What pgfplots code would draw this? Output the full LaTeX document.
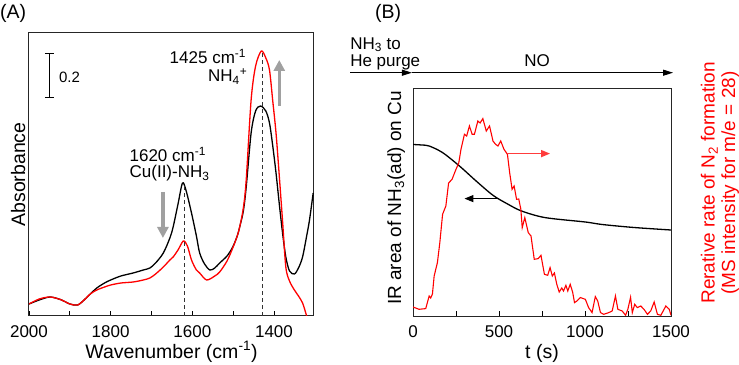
\documentclass[border=0pt]{standalone}
\usepackage{pgfplots}
\pgfplotsset{compat=1.18}
\usepackage{fontspec}
\setmainfont{Liberation Sans}
\setsansfont{Liberation Sans}
\usetikzlibrary{arrows.meta}
\newcommand\fs{\fontsize{17bp}{20bp}\selectfont}
\newcommand\fl{\fontsize{19.5bp}{22bp}\selectfont}
\newcommand\fv{\fontsize{19bp}{20.5bp}\selectfont}
\definecolor{arrowgray}{RGB}{160,160,160}
\definecolor{lightred}{RGB}{255,60,60}
\pgfplotsset{
  common/.style={
    scale only axis, anchor=south west,
    ytick=\empty, xtick pos=bottom, tick align=inside,
    major tick length=5bp, minor tick length=5bp,
    tick style={black, line width=0.8bp},
    axis line style={line width=1bp, black!85},
    /pgf/number format/assume math mode=true,
    /pgf/number format/1000 sep={},
    xticklabel style={font=\fs, anchor=base, yshift=-21bp},
    every axis x label/.style={at={(axis description cs:0.5,0)}, anchor=base, yshift=-42bp, font=\fl},
    clip mode=individual,
  }
}
\begin{document}
\fs
\begin{tikzpicture}
\path[use as bounding box] (0bp,0bp) rectangle (739bp,365bp);
\node[anchor=west, font=\fl, inner sep=0pt] at (0bp,352bp) {(A)};
\node[anchor=west, font=\fl, inner sep=0pt] at (375bp,351.5bp) {(B)};

% ---------------- Panel A ----------------
\begin{axis}[common,
  at={(29bp,49bp)}, width=285bp, height=283bp,
  x dir=reverse, xmin=1302, xmax=2000, ymin=0, ymax=283,
  xtick={2000,1800,1600,1400}, minor xtick={1900,1700,1500},
  xlabel={Wavenumber (cm\textsuperscript{-1})},
  ylabel={Absorbance},
  every axis y label/.style={at={(axis description cs:-0.014,0.5)}, rotate=90, anchor=base, font=\fl},
]
\addplot[black, line width=1.3bp, smooth, tension=0.5] coordinates {
(2000,12) (1975,16) (1948,19) (1920,16) (1900,12) (1881,11) (1865,16) (1850,22)
(1834,28) (1815,33) (1800,36) (1775,40) (1745,43) (1720,46) (1704,48) (1690,53)
(1671,63) (1655,78) (1647,89) (1635,112) (1624,133) (1615,125) (1602,103) (1590,80)
(1582,63) (1570,52) (1557,46) (1545,48) (1533,53) (1515,60) (1501,69) (1490,80)
(1484,89) (1475,105) (1468,129) (1456,183) (1445,205) (1433,210) (1420,205) (1411,193)
(1403,170) (1395,143) (1387,112) (1379,83) (1371,59) (1362,45) (1350,42) (1340,48)
(1330,59) (1320,80) (1313,96) (1304,123)
};
\addplot[red, line width=1.3bp, smooth, tension=0.5] coordinates {
(2000,12) (1975,17) (1948,19) (1920,16) (1900,12) (1881,11) (1865,16) (1850,22)
(1834,26) (1815,29) (1800,31) (1775,33) (1745,34) (1720,36) (1704,38) (1690,42)
(1671,49) (1655,56) (1647,59) (1635,66) (1622,75) (1612,70) (1602,56) (1590,46)
(1582,43) (1565,36) (1545,40) (1533,44) (1515,55) (1501,68) (1490,80) (1484,89)
(1475,108) (1468,136) (1456,216) (1445,250) (1431,265) (1420,258) (1411,246)
(1403,215) (1395,183) (1387,140) (1379,95) (1371,49) (1362,35) (1350,26) (1340,20)
(1330,13) (1320,0) (1310,-15)
};
\draw[dashed, dash pattern=on 4bp off 3bp, line width=0.8bp, black!80] (axis cs:1620,0) -- (axis cs:1620,133);
\draw[dashed, dash pattern=on 4bp off 3bp, line width=0.8bp, black!80] (axis cs:1428,0) -- (axis cs:1428,263);
% scale bar
\draw[line width=1bp] (axis cs:1950,218) -- (axis cs:1950,262);
\draw[line width=1bp] (axis cs:1961,218) -- (axis cs:1939,218);
\draw[line width=1bp] (axis cs:1961,262) -- (axis cs:1939,262);
\node[anchor=west, inner sep=0pt, font=\fontsize{15bp}{18bp}\selectfont] at (axis cs:1927,239) {0.2};
% gray arrows
\draw[-{Triangle[length=11bp,width=11bp]}, arrowgray, line width=3.5bp] (axis cs:1672,124) -- (axis cs:1672,78);
\draw[-{Triangle[length=11bp,width=11bp]}, arrowgray, line width=3.5bp] (axis cs:1387,210) -- (axis cs:1387,256);
% labels
\node[anchor=base east, inner sep=0pt] at (axis cs:1468,252.7) {1425 cm\textsuperscript{-1}};
\node[anchor=base east, inner sep=0pt] at (axis cs:1465,234) {NH\textsubscript{4}\textsuperscript{+}};
\node[anchor=base west, inner sep=0pt] at (axis cs:1754,154) {1620 cm\textsuperscript{-1}};
\node[anchor=base west, inner sep=0pt] at (axis cs:1754,138) {Cu(II)-NH\textsubscript{3}};
\end{axis}

% ---------------- Panel B (left axis) ----------------
\begin{axis}[common,
  at={(413bp,49bp)}, width=258bp, height=227bp,
  xmin=0, xmax=1500, ymin=0, ymax=227,
  xtick={0,500,1000,1500}, minor xtick={250,750,1250},
  xlabel={t (s)},
  ylabel={IR area of NH\textsubscript{3}(ad) on Cu},
  every axis y label/.style={at={(axis description cs:-0.0465,0.52)}, rotate=90, anchor=base, font=\fv},
]
\addplot[black, line width=1.3bp, smooth, tension=0.5] coordinates {
(0,171.5) (50,171) (94,170) (172,163.4) (270,150) (367,135) (465,120.7) (550,112)
(631,105) (768,98.4) (1002,94) (1100,91.5) (1285,88.5) (1500,86)
};
\draw[-{Triangle[length=9bp,width=7bp]}, black, line width=1.2bp] (axis cs:498,117.4) -- (axis cs:299,117.4);
% top annotations
\draw[-{Triangle[length=10bp,width=6bp]}, line width=1bp] (axis cs:-366,243.3) -- (axis cs:-6,243.3);
\draw[-{Triangle[length=10bp,width=6bp]}, line width=1bp] (axis cs:-6,243.3) -- (axis cs:1512,243.3);
\node[anchor=base west, inner sep=0pt] at (axis cs:-366,267) {NH\textsubscript{3} to};
\node[anchor=base west, inner sep=0pt] at (axis cs:-366,249.3) {He purge};
\node[anchor=base, inner sep=0pt] at (axis cs:721,249.3) {NO};
\end{axis}

% ---------------- Panel B (right axis) ----------------
\begin{axis}[common,
  at={(413bp,49bp)}, width=258bp, height=227bp,
  xmin=0, xmax=1500, ymin=0, ymax=227,
  axis x line=none, axis y line*=right,
  ytick=\empty,
  ylabel={Rerative rate of N\textsubscript{2} formation\\(MS intensity for m/e = 28)},
  every axis y label/.style={at={(axis description cs:1.19,0.586)}, rotate=90, anchor=center, align=center, font=\fv, text=red},
]
\addplot[red, line width=1.1bp] coordinates {
(0,9) (35,6.7) (74,7.4) (94,20) (103,18) (113,22) (123,40) (142,53.5) (156,73.5)
(172,101.7) (191,110) (207,133) (227,136.7) (250,146.7) (266,153) (279,166.7)
(299,181.7) (312,180) (328,190) (344,181.7) (357,181.7) (377,195) (390,193)
(406,197.4) (426,185) (445,190) (465,175) (480,171.7) (494,170) (510,175)
(529,166.7) (549,161.7) (562,143.4) (576,126.7) (588,130) (602,116.7) (615,117)
(627,106.7) (635,88.4) (650,98.4) (670,83.4) (686,80) (705,56.7) (728,57.4)
(744,60.7) (764,41.7) (783,40.7) (797,48.4) (810,40) (822,43) (836,31.7) (850,24)
(865,28) (875,25) (889,30.7) (900,25) (914,31.7) (928,24) (939,13.4) (953,15)
(973,18.4) (1002,16.7) (1021,8.4) (1041,3.4) (1060,19.4) (1074,15) (1090,3.4)
(1109,1.7) (1138,3.4) (1158,5) (1177,20) (1191,6.7) (1216,5) (1236,0.7) (1249,6.7)
(1265,18.7) (1275,3.4) (1289,11.7) (1304,8.4) (1324,10) (1343,6.7) (1363,1.7)
(1382,5) (1402,14) (1421,1.7) (1441,0.7) (1470,10) (1490,6.7) (1500,0.7)
};
\draw[-{Triangle[length=9bp,width=7bp]}, lightred, line width=1.5bp] (axis cs:549,162.4) -- (axis cs:797,162.4);
\end{axis}
\end{tikzpicture}
\end{document}
